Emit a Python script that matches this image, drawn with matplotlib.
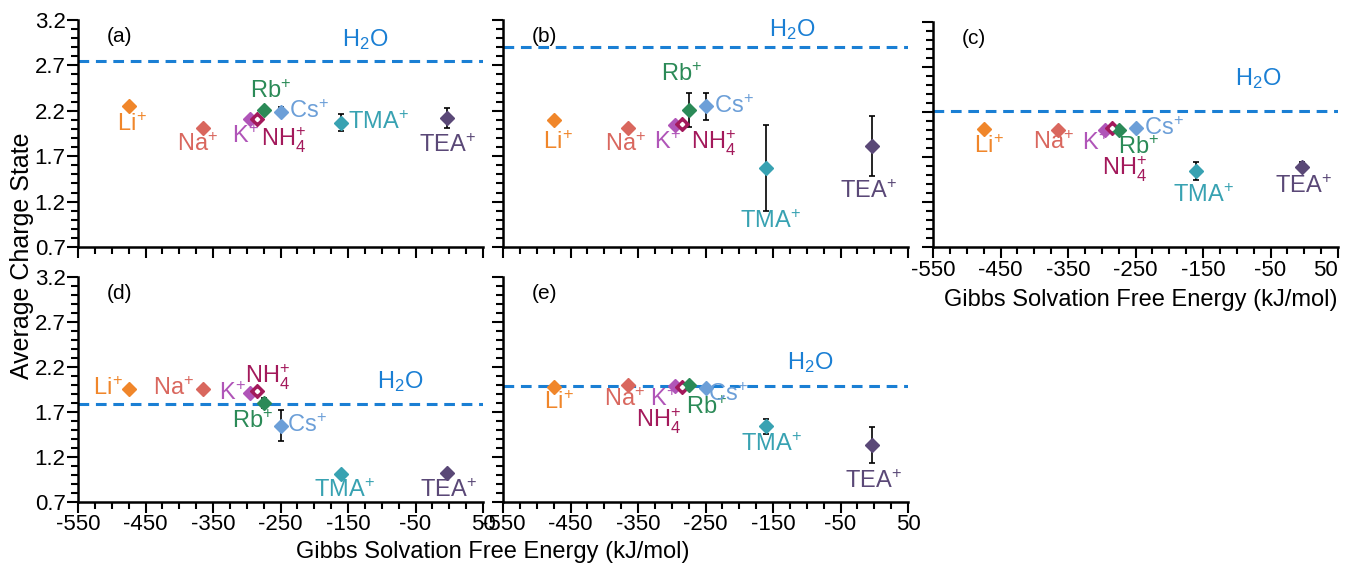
import numpy as np
import matplotlib
matplotlib.use('Agg')
from matplotlib import pyplot as plt
from matplotlib.ticker import MultipleLocator

plt.rcParams['font.family'] = ['Liberation Sans', 'DejaVu Sans']
plt.rcParams['mathtext.fontset'] = 'custom'
plt.rcParams['mathtext.rm'] = 'Liberation Sans'
plt.rcParams['mathtext.it'] = 'Liberation Sans'

# cations and their Gibbs solvation free energy (kJ/mol)
ions = ['Li', 'Na', 'K', 'NH4', 'Rb', 'Cs', 'TMA', 'TEA']
ion_labels = [r'$\mathregular{Li^{\!+}}$', r'$\mathregular{Na^{\!+}}$', r'$\mathregular{K^{\!+}}$',
              r'$\mathregular{NH_4^{\!+}}$', r'$\mathregular{Rb^{\!+}}$', r'$\mathregular{Cs^{\!+}}$',
              r'$\mathregular{TMA^{\!+}}$', r'$\mathregular{TEA^{\!+}}$']
energy = [-475, -365, -295, -285, -275, -250, -160, -3]

# average charge state per panel, with error bars
charge_a = [2.25, 2.01, 2.11, 2.11, 2.21, 2.19, 2.07, 2.12]
err_a = [0.0, 0.0, 0.0, 0.0, 0.0, 0.05, 0.09, 0.11]
charge_b = [2.10, 2.01, 2.04, 2.06, 2.21, 2.25, 1.57, 1.81]
err_b = [0.01, 0.0, 0.0, 0.02, 0.19, 0.15, 0.47, 0.33]
charge_c = [2.01, 2.00, 2.00, 2.02, 2.00, 2.02, 1.55, 1.59]
err_c = [0.0, 0.0, 0.0, 0.0, 0.0, 0.0, 0.10, 0.05]
charge_d = [1.96, 1.955, 1.91, 1.93, 1.80, 1.55, 1.01, 1.02]
err_d = [0.0, 0.0, 0.0, 0.02, 0.055, 0.17, 0.0, 0.0]
charge_e = [1.98, 2.00, 1.99, 1.98, 2.00, 1.97, 1.54, 1.33]
err_e = [0.0, 0.0, 0.0, 0.0, 0.0, 0.0, 0.08, 0.20]

# pure water reference
h2o = [2.75, 2.90, 2.21, 1.79, 1.99]

xticks = [-550, -450, -350, -250, -150, -50, 50]
yticks = [0.7, 1.2, 1.7, 2.2, 2.7, 3.2]

colors = ['#f0862a', '#d9675e', '#b055b8', '#a3195b', '#2b8a57',
          '#6c9fd8', '#38a2b2', '#5a4877']
h2o_color = '#1a7fd4'

# label offsets in pixels from each marker (dx, dy, ha)
offs_a = [(3, -18, 'center'), (-5, -16, 'center'), (-5, -18, 'center'), (27, -21, 'center'),
          (7, 18, 'center'), (8, 0, 'left'), (7, 0, 'left'), (0, -27, 'center')]
offs_b = [(4, -23, 'center'), (-2, -16, 'center'), (-8, -17, 'center'), (32, -20, 'center'),
          (-7, 35, 'center'), (8, 0, 'left'), (4, -54, 'center'), (-4, -45, 'center')]
offs_c = [(5, -17, 'center'), (-4, -13, 'center'), (-10, -14, 'center'), (13, -41, 'center'),
          (20, -18, 'center'), (8, 0, 'left'), (7, -25, 'center'), (1, -20, 'center')]
offs_d = [(-6, 0, 'right'), (-8, 0, 'right'), (-4, 0, 'right'), (11, 14, 'center'),
          (-11, -19, 'center'), (6, 0, 'left'), (3, -16, 'center'), (1, -17, 'center')]
offs_e = [(5, -16, 'center'), (-3, -15, 'center'), (-12, -14, 'center'), (-23, -35, 'center'),
          (18, -23, 'center'), (23, -7, 'center'), (5, -18, 'center'), (1, -36, 'center')]

W, H = 1345., 570.
fig = plt.figure(figsize=(W / 100, H / 100), dpi=100)


def px_axes(l, t, r, b):
    return fig.add_axes([l / W, 1 - b / H, (r - l) / W, (b - t) / H])


panels = [
    # name, box (l, t, r, b), charge, err, h2o, h2o label x, h2o label dy, offs, ylab, xlab
    ('(a)', (78, 20, 483, 247), charge_a, err_a, h2o[0], -125, 21, offs_a, True, False),
    ('(b)', (503, 20, 908, 247), charge_b, err_b, h2o[1], -122, 18, offs_b, False, False),
    ('(c)', (933, 22, 1338, 247), charge_c, err_c, h2o[2], -68, 33, offs_c, False, True),
    ('(d)', (78, 277, 483, 502), charge_d, err_d, h2o[3], -73, 22, offs_d, True, True),
    ('(e)', (503, 277, 908, 502), charge_e, err_e, h2o[4], -95, 23, offs_e, False, True),
]

axes = []
for name, box, charge, err, h2o_val, hx, hdy, offs, ylab, xlab in panels:
    ax = px_axes(*box)
    axes.append(ax)
    ax.set_xlim(-550, 50)
    ax.set_ylim(0.7, 3.2)
    for sp in ['top', 'right']:
        ax.spines[sp].set_visible(False)
    for sp in ['left', 'bottom']:
        ax.spines[sp].set_linewidth(1.8)
    ax.set_xticks(xticks)
    ax.set_yticks(yticks)
    ax.xaxis.set_minor_locator(MultipleLocator(25))
    ax.yaxis.set_minor_locator(MultipleLocator(0.1))
    ax.tick_params(which='major', direction='out', length=8, width=1.5, labelsize=16, pad=1)
    ax.tick_params(which='minor', direction='out', length=5, width=1.5)
    if ylab:
        ax.set_yticklabels(['%.1f' % v for v in yticks])
    else:
        ax.tick_params(axis='y', labelleft=False)
    if xlab:
        labs = ax.set_xticklabels([str(v) for v in xticks])
        if name == '(c)':
            labs[-1].set_ha('right')
    else:
        ax.tick_params(axis='x', labelbottom=False)

    ax.axhline(h2o_val, color=h2o_color, lw=2.2, ls=(0, (3.5, 2.2)), zorder=1)
    ax.annotate(r'$\mathregular{H_2O}$', xy=(hx, h2o_val), xytext=(0, hdy),
                textcoords='offset pixels', ha='center', va='center', fontsize=17,
                color=h2o_color)

    for i in range(len(ions)):
        if err[i] > 0:
            ax.errorbar(energy[i], charge[i], yerr=err[i], fmt='none', ecolor='black',
                        elinewidth=1.2, capsize=2.5, capthick=1.2, zorder=2)
        ax.plot(energy[i], charge[i], marker='D', ms=7, color=colors[i],
                mec=colors[i], ls='none', zorder=3)
        if ions[i] == 'NH4':
            ax.plot(energy[i], charge[i], marker='D', ms=2.2, color='white',
                    mec='white', ls='none', zorder=4)
        dx, dy, ha = offs[i]
        ax.annotate(ion_labels[i], xy=(energy[i], charge[i]), xytext=(dx, dy),
                    textcoords='offset pixels', ha=ha, va='center', fontsize=17,
                    color=colors[i])

    ax.text(29 / 405., 1 - 17 / 227., name, transform=ax.transAxes,
            ha='left', va='center', fontsize=15)

fig.text(1141 / W, 1 - 300 / H, 'Gibbs Solvation Free Energy (kJ/mol)',
         ha='center', va='center', fontsize=17)
fig.text(493 / W, 1 - 552 / H, 'Gibbs Solvation Free Energy (kJ/mol)',
         ha='center', va='center', fontsize=17)
fig.text(22 / W, 1 - 256 / H, 'Average Charge State', rotation=90,
         ha='center', va='center', fontsize=18)

fig.savefig('out.png', dpi=100)
